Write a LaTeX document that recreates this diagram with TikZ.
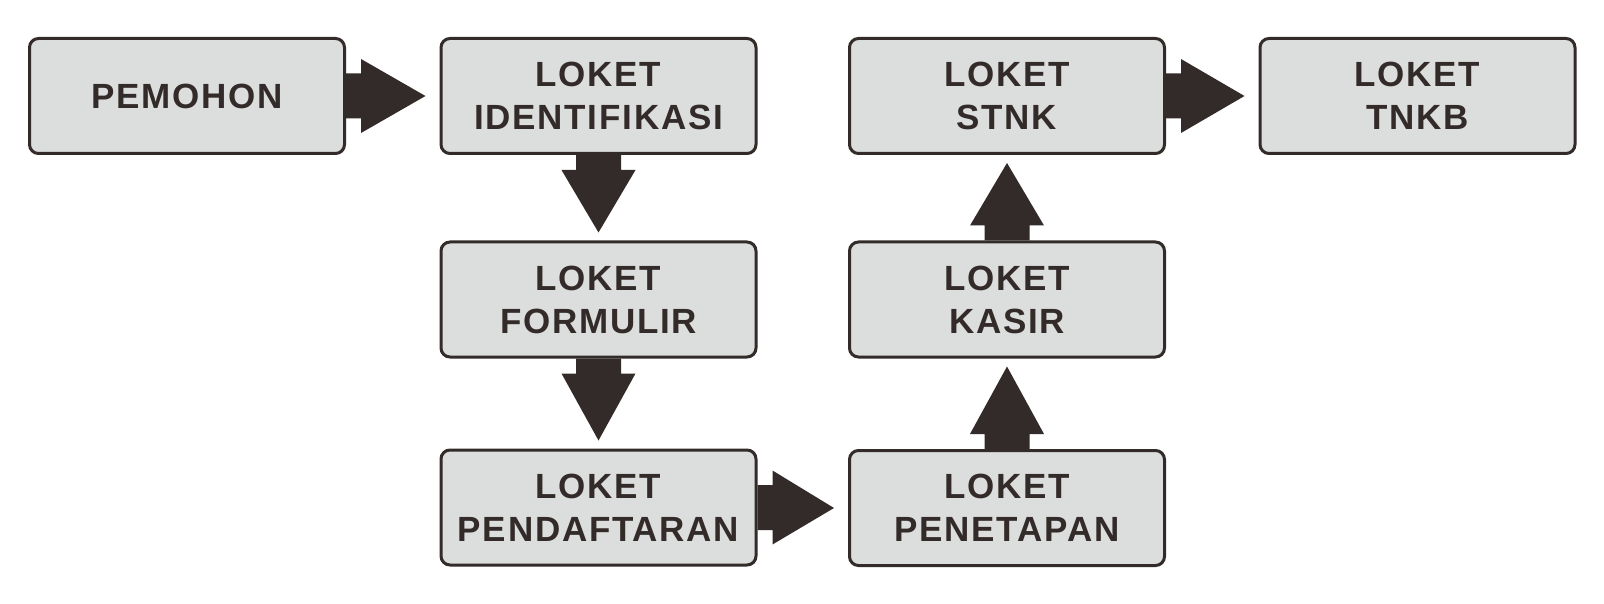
\documentclass[tikz,border=0pt]{standalone}
\usepackage{fontspec}
\setmainfont{Liberation Sans}[LetterSpace=5]
\usetikzlibrary{calc}
\definecolor{ink}{RGB}{51,43,41}
\definecolor{boxfill}{RGB}{220,222,221}
\newcommand\blockR[2]{\fill[blockarrow] ($(#1.east)+(0,-22.5)$) -- ($(#1.east)+(15,-22.5)$) -- ($(#1.east)+(15,-37)$) -- ($(#2.west)+(-14,0)$) -- ($(#1.east)+(15,37)$) -- ($(#1.east)+(15,22.5)$) -- ($(#1.east)+(0,22.5)$) -- cycle;}
\newcommand\blockD[2]{\fill[blockarrow] ($(#1.south)+(-22.5,0)$) -- ($(#1.south)+(-22.5,15)$) -- ($(#1.south)+(-37,15)$) -- ($(#2.north)+(0,-8)$) -- ($(#1.south)+(37,15)$) -- ($(#1.south)+(22.5,15)$) -- ($(#1.south)+(22.5,0)$) -- cycle;}
\newcommand\blockU[2]{\fill[blockarrow] ($(#1.north)+(-22.5,0)$) -- ($(#1.north)+(-22.5,-15)$) -- ($(#1.north)+(-37,-15)$) -- ($(#2.south)+(0,8)$) -- ($(#1.north)+(37,-15)$) -- ($(#1.north)+(22.5,-15)$) -- ($(#1.north)+(22.5,0)$) -- cycle;}
\begin{document}
\begin{tikzpicture}[x=1pt,y=-1pt,
  loket/.style={draw=ink, fill=boxfill, line width=3pt, rounded corners=9pt,
    minimum width=315pt, minimum height=115pt, inner sep=0pt, align=center,
    text=ink, font=\fontsize{35}{43}\selectfont\bfseries},
  blockarrow/.style={fill=ink}]
\useasboundingbox (0,0) rectangle (1604,604);
\node[loket] (pemohon) at (187,96) {PEMOHON};
\node[loket] (ident) at (598.5,96) {LOKET\\IDENTIFIKASI};
\node[loket] (formulir) at (598.5,299.5) {LOKET\\FORMULIR};
\node[loket] (pendaftaran) at (598.5,507.5) {LOKET\\PENDAFTARAN};
\node[loket] (penetapan) at (1007,508) {LOKET\\PENETAPAN};
\node[loket] (kasir) at (1007,299.5) {LOKET\\KASIR};
\node[loket] (stnk) at (1007,96) {LOKET\\STNK};
\node[loket] (tnkb) at (1417.5,96) {LOKET\\TNKB};
\blockR{pemohon}{ident}
\blockD{ident}{formulir}
\blockD{formulir}{pendaftaran}
\blockR{pendaftaran}{penetapan}
\blockU{penetapan}{kasir}
\blockU{kasir}{stnk}
\blockR{stnk}{tnkb}
\end{tikzpicture}
\end{document}
